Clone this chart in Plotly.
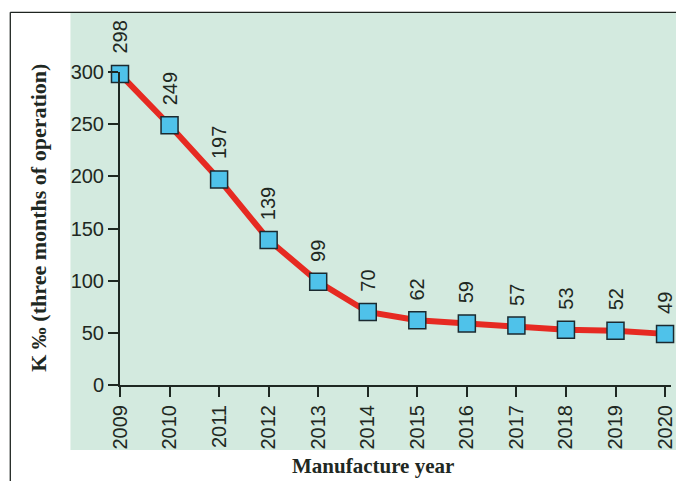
import plotly.graph_objects as go

years = [2009, 2010, 2011, 2012, 2013, 2014, 2015, 2016, 2017, 2018, 2019, 2020]
k_values = [298, 249, 197, 139, 99, 70, 62, 59, 57, 53, 52, 49]
y_ticks = [0, 50, 100, 150, 200, 250, 300]
x_title = "Manufacture year"
y_title = "K ‰ (three months of operation)"

W, H = 676, 481
L, R, T, B = 120, 0, 72, 96
pw, ph = W - L - R, H - T - B

def px_x(p):
    return (p - L) / pw

def px_y(p):
    return (H - B - p) / ph

dark = "#1e2822"
fig = go.Figure()
fig.add_trace(go.Scatter(
    x=years, y=k_values, mode="lines+markers",
    line=dict(color="#E62A22", width=6),
    marker=dict(symbol="square", size=17, color="#4FC2EA",
                line=dict(color="#1b2a30", width=1.5)),
    cliponaxis=False, hoverinfo="skip", showlegend=False,
))

annotations = []
for x, y in zip(years, k_values):
    annotations.append(dict(
        x=x, y=y, xref="x", yref="y", text=str(y), textangle=-90,
        showarrow=False, yanchor="bottom", xanchor="center", yshift=18,
        font=dict(family="Liberation Sans, Arial", size=20, color=dark),
    ))
annotations.append(dict(
    x=px_x(375), y=px_y(466), xref="paper", yref="paper", text=f"<b>{x_title}</b>",
    showarrow=False, xanchor="center", yanchor="middle",
    font=dict(family="Liberation Serif, Times New Roman", size=21, color=dark),
))
annotations.append(dict(
    x=px_x(38), y=px_y(218), xref="paper", yref="paper", text=f"<b>{y_title}</b>",
    textangle=-90, showarrow=False, xanchor="center", yanchor="middle",
    font=dict(family="Liberation Serif, Times New Roman", size=22, color=dark),
))

shapes = [
    dict(type="rect", xref="paper", yref="paper", layer="below",
         x0=px_x(70), x1=1.05, y0=px_y(450), y1=px_y(12.5),
         fillcolor="#D3EADF", line=dict(width=0)),
    dict(type="line", xref="paper", yref="paper",
         x0=px_x(9.3), x1=1.05, y0=px_y(12.3), y1=px_y(12.3),
         line=dict(color="#1e2420", width=1.3)),
    dict(type="line", xref="paper", yref="paper",
         x0=px_x(9.3), x1=px_x(9.3), y0=px_y(12.3), y1=px_y(490),
         line=dict(color="#1e2420", width=1.3)),
]

fig.update_layout(
    width=W, height=H, margin=dict(l=L, r=R, t=T, b=B),
    paper_bgcolor="white", plot_bgcolor="rgba(0,0,0,0)",
    annotations=annotations, shapes=shapes,
    xaxis=dict(range=[2009, 2020 + 6 / 50], tickvals=years, ticktext=[str(y) for y in years],
               tickangle=-90, showgrid=False, zeroline=False, ticklabeloverflow="allow",
               showline=True, linecolor=dark, linewidth=2,
               ticks="outside", ticklen=10, tickwidth=2, tickcolor=dark,
               tickfont=dict(family="Liberation Sans, Arial", size=20, color=dark)),
    yaxis=dict(range=[0, 300], tickvals=y_ticks, showgrid=False, zeroline=False,
               showline=True, linecolor=dark, linewidth=2,
               ticks="outside", ticklen=10, tickwidth=2, tickcolor=dark,
               tickfont=dict(family="Liberation Sans, Arial", size=20, color=dark)),
)

fig.write_html("out.html")
